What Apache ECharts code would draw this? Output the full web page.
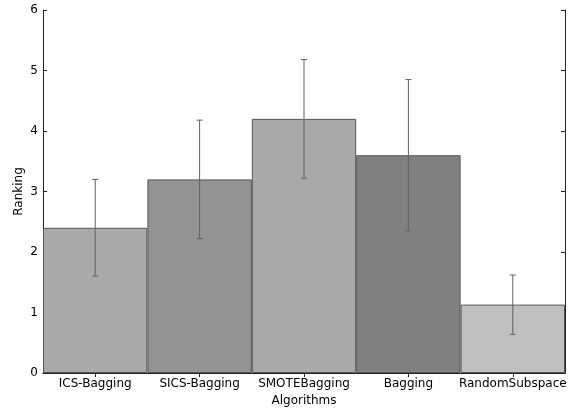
<!DOCTYPE html>
<html><head><meta charset="utf-8">
<script src="https://cdn.jsdelivr.net/npm/echarts@6/dist/echarts.min.js"></script>
<style>html,body{margin:0;padding:0;background:#fff}#c{width:577px;height:412px}</style>
</head><body><div id="c"></div>
<script>
const categories = ['ICS-Bagging','SICS-Bagging','SMOTEBagging','Bagging','RandomSubspace'];
const ranking = [2.4, 3.2, 4.2, 3.6, 1.13];
const errLow = [1.6, 2.22, 3.22, 2.35, 0.64];
const errHigh = [3.2, 4.18, 5.18, 4.85, 1.62];
const barColors = ['#aaaaaa','#939393','#a9a9a9','#808080','#bfbfbf'];
const yTicks = [0,1,2,3,4,5,6];

const font = 'DejaVu Sans';
const chart = echarts.init(document.getElementById('c'), null, {renderer:'canvas'});
const axisLine = {show:true, lineStyle:{color:'#222', width:1}};
chart.setOption({
  animation:false,
  grid:{left:43, right:12, top:10, bottom:37},
  xAxis:[{
    type:'category', data:categories, position:'bottom',
    name:'Algorithms', nameLocation:'middle', nameGap:22, nameMoveOverlap:false,
    nameTextStyle:{fontFamily:font, fontSize:12, color:'#000'},
    axisLine:axisLine,
    axisTick:{show:true, inside:true, length:4, alignWithLabel:true, interval:0, lineStyle:{color:'#222'}},
    axisLabel:{fontFamily:font, fontSize:12, color:'#000', margin:5, interval:0},
    splitLine:{show:false}
  },{
    type:'category', data:categories, position:'top',
    axisLine:axisLine,
    axisTick:{show:true, inside:true, length:4, alignWithLabel:true, interval:0, lineStyle:{color:'#222'}},
    axisLabel:{show:false}, splitLine:{show:false}
  }],
  yAxis:[{
    type:'value', min:yTicks[0], max:yTicks[yTicks.length-1], interval:1, position:'left',
    name:'Ranking', nameLocation:'middle', nameGap:18, nameRotate:90, nameMoveOverlap:false,
    nameTextStyle:{fontFamily:font, fontSize:12, color:'#000'},
    axisLine:axisLine,
    axisTick:{show:true, inside:true, length:4, lineStyle:{color:'#222'}},
    axisLabel:{fontFamily:font, fontSize:12, color:'#000', margin:5},
    splitLine:{show:false}
  },{
    type:'value', min:yTicks[0], max:yTicks[yTicks.length-1], interval:1, position:'right',
    axisLine:axisLine,
    axisTick:{show:true, inside:true, length:4, lineStyle:{color:'#222'}},
    axisLabel:{show:false}, splitLine:{show:false}
  }],
  series:[{
    type:'bar', xAxisIndex:0, yAxisIndex:0, barWidth:'100%', barGap:'0%',
    data: ranking.map((v,i)=>({value:v, itemStyle:{color:barColors[i]}})),
    itemStyle:{borderColor:'#555555', borderWidth:1},
    z:2
  },{
    type:'custom', xAxisIndex:0, yAxisIndex:0,
    data: categories.map((c,i)=>[i, errLow[i], errHigh[i]]),
    renderItem:function(params, api){
      const x = api.value(0);
      const lo = api.coord([x, api.value(1)]);
      const hi = api.coord([x, api.value(2)]);
      const cap = 3;
      const st = {stroke:'#606060', lineWidth:1};
      return {type:'group', children:[
        {type:'line', shape:{x1:lo[0], y1:lo[1], x2:hi[0], y2:hi[1]}, style:st},
        {type:'line', shape:{x1:lo[0]-cap, y1:lo[1], x2:lo[0]+cap, y2:lo[1]}, style:st},
        {type:'line', shape:{x1:hi[0]-cap, y1:hi[1], x2:hi[0]+cap, y2:hi[1]}, style:st}
      ]};
    },
    z:5
  }]
});
</script></body></html>
